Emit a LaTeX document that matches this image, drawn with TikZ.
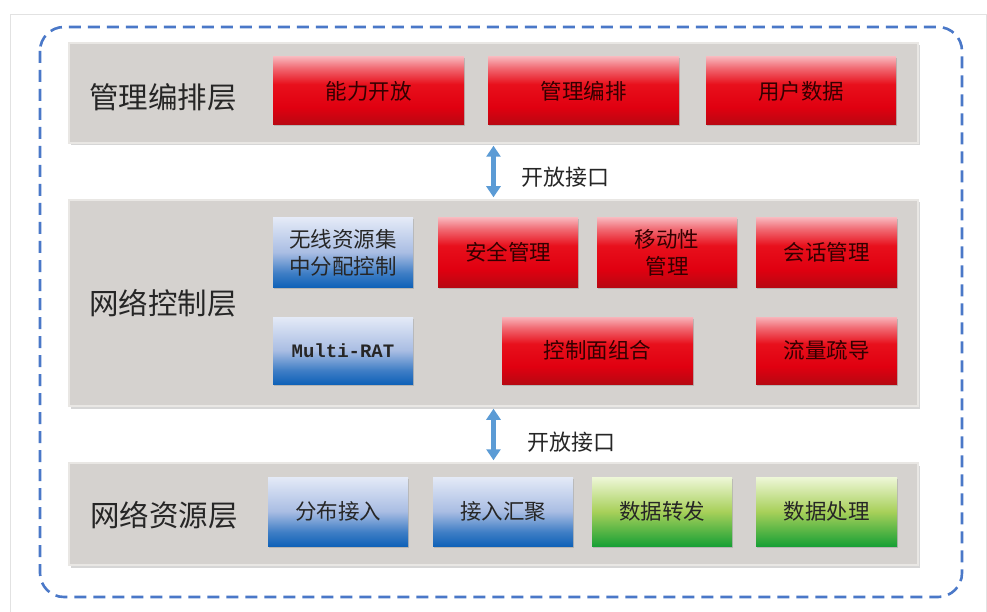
\documentclass[tikz,border=0pt]{standalone}
\usepackage{fontspec}
\newfontfamily\cjk{Noto Sans CJK SC}
\newfontfamily\monob{Liberation Mono}
\usetikzlibrary{shadows,arrows.meta}
\definecolor{dashblue}{HTML}{4A78C8}
\definecolor{arrowblue}{HTML}{5B9BD5}
\definecolor{panelgray}{HTML}{D5D2CF}
\definecolor{paneledge}{HTML}{E9E7E4}
\definecolor{framegray}{HTML}{E2E2E2}
% red
\definecolor{rtop}{HTML}{F8B4BA}
\definecolor{rmid}{HTML}{E8101C}
\definecolor{rlow}{HTML}{E00010}
\definecolor{rbot}{HTML}{B80812}
% blue
\definecolor{btop}{HTML}{E4EAF7}
\definecolor{bmid}{HTML}{A9BDE3}
\definecolor{bbot}{HTML}{1062B8}
% green
\definecolor{gtop}{HTML}{EEF7D8}
\definecolor{gmid}{HTML}{A8D05A}
\definecolor{gbot}{HTML}{18A035}
\pgfdeclareverticalshading{redsh}{100bp}{color(0bp)=(rbot); color(25bp)=(rbot); color(38bp)=(rlow); color(55bp)=(rmid); color(67bp)=(rtop!55!rmid); color(75bp)=(rtop); color(100bp)=(rtop)}
\pgfdeclareverticalshading{bluesh}{100bp}{color(0bp)=(bbot); color(25bp)=(bbot); color(35bp)=(bbot!70!bmid); color(50bp)=(bmid); color(75bp)=(btop); color(100bp)=(btop)}
\pgfdeclareverticalshading{greensh}{100bp}{color(0bp)=(gbot); color(25bp)=(gbot); color(35bp)=(gbot!60!gmid); color(50bp)=(gmid); color(75bp)=(gtop); color(100bp)=(gtop)}
\tikzset{
  panel/.style={fill=panelgray, draw=paneledge, line width=2.5pt, minimum width=849pt,
    drop shadow={shadow xshift=1.5pt, shadow yshift=-2.5pt, fill=black!35, opacity=.45}},
  boxbase/.style={inner sep=0pt, align=center, font=\cjk\fontsize{21.5pt}{25pt}\selectfont, text=black!85,
    drop shadow={shadow xshift=1pt, shadow yshift=-1.5pt, fill=black!40, opacity=.5}},
  redbox/.style={boxbase, shading=redsh, text=black!80!red},
  bluebox/.style={boxbase, shading=bluesh},
  greenbox/.style={boxbase, shading=greensh},
  twoline/.style={font=\cjk\fontsize{21.5pt}{27pt}\selectfont},
  layerlabel/.style={font=\cjk\fontsize{29.5pt}{33pt}\selectfont, text=black!85},
  portlabel/.style={font=\cjk\fontsize{22pt}{25pt}\selectfont, text=black!85},
  biarrow/.style={draw=arrowblue, line width=4.5pt, {Triangle[width=14pt,length=11pt]}-{Triangle[width=14pt,length=11pt]}, shorten <=1.5pt, shorten >=1.5pt}
}
\begin{document}
\begin{tikzpicture}[x=1pt,y=-1pt]
\useasboundingbox (0,0) rectangle (987,612);
\fill[white] (0,0) rectangle (987,612);
% faint outer frame
\draw[framegray, line width=1pt] (10,612) -- (10,15) -- (986,15) -- (986,612);
% dashed rounded border
\draw[dashblue, line width=2.6pt, dash pattern=on 12pt off 7pt, rounded corners=24pt] (40,27) rectangle (962,597);

% panels
\node[panel, minimum height=100pt] (p1) at (493.5,93) {};
\node[panel, minimum height=206pt] (p2) at (493.5,303) {};
\node[panel, minimum height=102pt] (p3) at (493.5,514) {};

% layer labels
\node[layerlabel] (l1) at (163,97) {管理编排层};
\node[layerlabel] (l2) at (163,303) {网络控制层};
\node[layerlabel] (l3) at (164,515) {网络资源层};

% layer 1 boxes
\node[redbox, minimum width=191pt, minimum height=68pt] (a1) at (368.5,91) {能力开放};
\node[redbox, minimum width=191pt, minimum height=68pt] (a2) at (583.5,91) {管理编排};
\node[redbox, minimum width=190pt, minimum height=68pt] (a3) at (801,91) {用户数据};

% layer 2 boxes
\node[bluebox, twoline, minimum width=140pt, minimum height=69pt] (b1) at (343,252.5) {无线资源集\\中分配控制};
\node[redbox, minimum width=140pt, minimum height=69pt] (b2) at (508,252.5) {安全管理};
\node[redbox, twoline, minimum width=140pt, minimum height=69pt] (b3) at (667,252.5) {移动性\\管理};
\node[redbox, minimum width=141pt, minimum height=69pt] (b4) at (826.5,252.5) {会话管理};
\node[bluebox, minimum width=140pt, minimum height=67pt, font=\monob\bfseries\fontsize{19pt}{21pt}\selectfont] (b5) at (343,350.5) {Multi-RAT};
\node[redbox, minimum width=191pt, minimum height=67pt] (b6) at (597.5,350.5) {控制面组合};
\node[redbox, minimum width=141pt, minimum height=67pt] (b7) at (826.5,350.5) {流量疏导};

% layer 3 boxes
\node[bluebox, minimum width=140pt, minimum height=69pt] (c1) at (338,511.5) {分布接入};
\node[bluebox, minimum width=140pt, minimum height=69pt] (c2) at (503,511.5) {接入汇聚};
\node[greenbox, minimum width=140pt, minimum height=69pt] (c3) at (662,511.5) {数据转发};
\node[greenbox, minimum width=141pt, minimum height=69pt] (c4) at (826.5,511.5) {数据处理};

% interface arrows
\draw[biarrow] (p1.south) -- (p2.north);
\draw[biarrow] (p2.south) -- (p3.north);
\node[portlabel] (i1) at (565,177) {开放接口};
\node[portlabel] (i2) at (571,442) {开放接口};
\end{tikzpicture}
\end{document}
